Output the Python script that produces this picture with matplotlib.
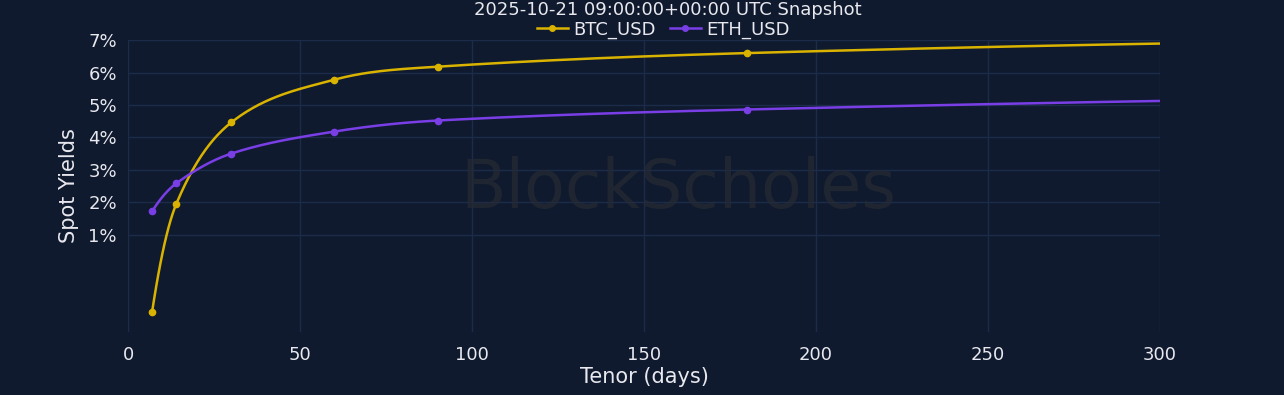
import numpy as np
import matplotlib.pyplot as plt

tenor = [7, 14, 30, 60, 90, 180, 365]
btc_usd = [-1.38, 1.94, 4.46, 5.78, 6.18, 6.60, 7.00]
eth_usd = [1.72, 2.58, 3.50, 4.18, 4.52, 4.86, 5.23]
y_ticks = [1, 2, 3, 4, 5, 6, 7]
x_ticks = [0, 50, 100, 150, 200, 250, 300]

BG = "#0f1a2e"
GRID = "#1d2b4b"
TXT = "#e8e8ee"
BTC_COL = "#d9b300"
ETH_COL = "#7a3ee6"


def smooth(x, y, n=600):
    # cardinal-style spline for drawing the line between the markers
    x = np.asarray(x, float)
    y = np.asarray(y, float)
    h = np.diff(x)
    d = np.diff(y) / h
    m = np.zeros_like(y)
    m[1:-1] = (y[2:] - y[:-2]) / (x[2:] - x[:-2])
    m[0] = 2 * d[0] - m[1]
    m[-1] = 2 * d[-1] - m[-2]
    xs = np.linspace(x[0], x[-1], n)
    idx = np.clip(np.searchsorted(x, xs) - 1, 0, len(x) - 2)
    t = (xs - x[idx]) / h[idx]
    h00 = 2 * t**3 - 3 * t**2 + 1
    h10 = t**3 - 2 * t**2 + t
    h01 = -2 * t**3 + 3 * t**2
    h11 = t**3 - t**2
    ys = h00 * y[idx] + h10 * h[idx] * m[idx] + h01 * y[idx + 1] + h11 * h[idx] * m[idx + 1]
    return xs, ys


fig = plt.figure(figsize=(12.84, 3.95), dpi=100, facecolor=BG)
ax = fig.add_axes([0.0997, 0.1595, 0.8037, 0.739])
ax.set_facecolor(BG)

for vals, col, name in [(btc_usd, BTC_COL, "BTC_USD"), (eth_usd, ETH_COL, "ETH_USD")]:
    xs, ys = smooth(tenor, vals)
    ax.plot(xs, ys, color=col, lw=1.8, zorder=3)
    ax.plot(tenor, vals, "o", color=col, ms=4.5, zorder=4)
    ax.plot([], [], color=col, lw=1.8, marker="o", ms=4, label=name)

ax.text(0.533, 0.49, "BlockScholes", transform=ax.transAxes, ha="center", va="center",
        fontsize=48, color="#262a33", alpha=0.7, zorder=1)

ax.set_xlim(0, 300)
ax.set_ylim(-2, 7)
ax.set_xticks(x_ticks)
ax.set_yticks(y_ticks)
ax.set_yticklabels([f"{v}%" for v in y_ticks])
ax.grid(True, color=GRID, lw=1)
ax.set_axisbelow(True)
for s in ax.spines.values():
    s.set_visible(False)
ax.tick_params(colors=TXT, labelsize=13, length=0, pad=8)
ax.tick_params(axis="x", pad=10)

ax.set_xlabel("Tenor (days)", color=TXT, fontsize=15, labelpad=2)
ax.set_ylabel("Spot Yields", color=TXT, fontsize=15, labelpad=7)

fig.text(0.52, 0.975, "2025-10-21 09:00:00+00:00 UTC Snapshot", ha="center", va="center",
         color=TXT, fontsize=13)
leg = fig.legend(loc="center", bbox_to_anchor=(0.5165, 0.925), ncol=2, frameon=False,
                 fontsize=13, handlelength=1.7, handletextpad=0.3, columnspacing=0.8,
                 borderpad=0)
for t in leg.get_texts():
    t.set_color(TXT)

fig.savefig("out.png", dpi=100, facecolor=BG)
